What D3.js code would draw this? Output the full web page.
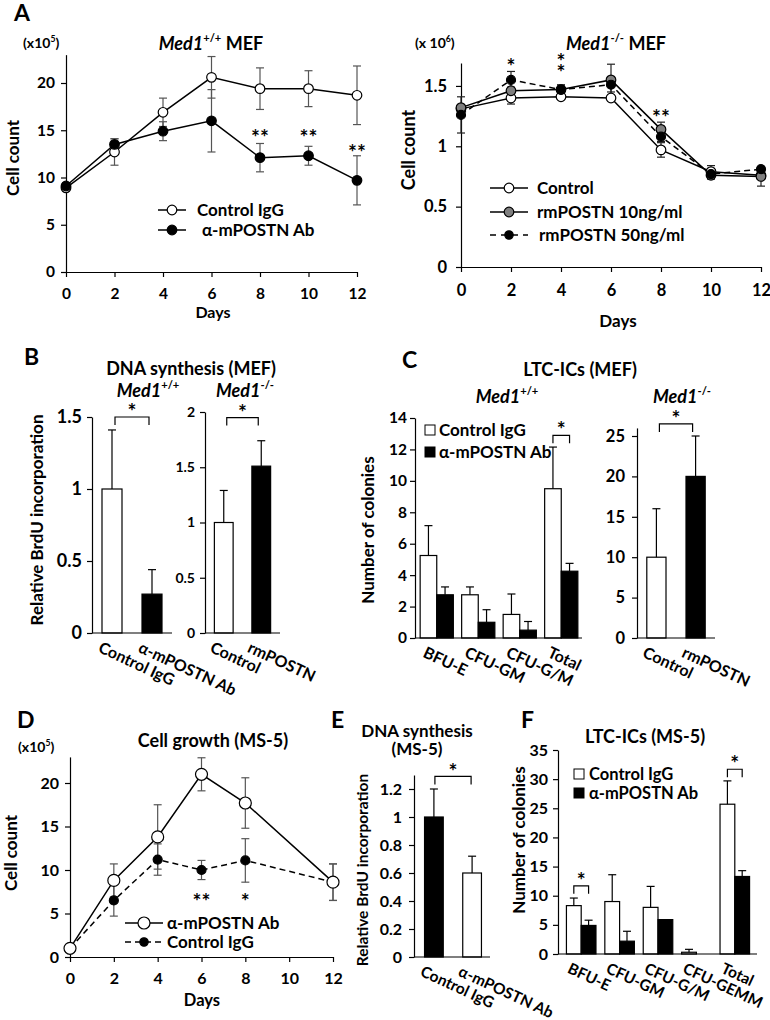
<!DOCTYPE html>
<html><head><meta charset="utf-8">
<script src="https://cdn.jsdelivr.net/npm/d3@7"></script>
<style>
body{margin:0;background:#fff}
svg{display:block}
text{font-family:Lato,'Open Sans',sans-serif;font-weight:bold;fill:#000}
</style>
</head><body>
<svg id="c" width="770" height="1020"></svg>
<script>
// ---------- DATA ----------
// Panel A (left): Med1+/+ MEF
const daysA = [0, 2, 4, 6, 8, 10, 12];
const aCtrlIgG = [8.9, 12.7, 16.9, 20.6, 19.4, 19.4, 18.7];
const aCtrlIgGErr = [0.3, 1.4, 1.5, 2.2, 2.2, 1.9, 3.1];
const aAntiAb = [9.1, 13.5, 14.9, 16.0, 12.1, 12.3, 9.7];
const aAntiAbErr = [0.3, 0.6, 1.0, 3.3, 1.5, 1.0, 2.6];
const aStars = [{day: 8, v: 14.7, t: "**"}, {day: 10, v: 14.7, t: "**"}, {day: 12, v: 13.1, t: "**"}];
const aYTicks = [0, 5, 10, 15, 20];

// Panel A (right): Med1-/- MEF
const rCtrl = [1.31, 1.40, 1.41, 1.40, 0.97, 0.79, 0.76];
const rCtrlErr = [0.02, 0.05, 0.02, 0.02, 0.06, 0.05, 0.03];
const rRm10 = [1.32, 1.46, 1.47, 1.55, 1.14, 0.76, 0.75];
const rRm10Err = [0.02, 0.03, 0.03, 0.13, 0.06, 0.03, 0.08];
const rRm50 = [1.26, 1.55, 1.47, 1.51, 1.08, 0.77, 0.81];
const rRm50Err = [0.15, 0.07, 0.04, 0.06, 0.04, 0.04, 0.02];
const rStars = [{day: 2, v: 1.70, t: "*"}, {day: 4, v: 1.74, t: "*"}, {day: 4, v: 1.65, t: "*"}, {day: 8, v: 1.28, t: "**"}];
const rYTicks = [0, 0.5, 1, 1.5];

// Panel B: DNA synthesis (MEF)
const bLeftCats = ["Control IgG", "α-mPOSTN Ab"];
const bLeftVals = [1.0, 0.27];
const bLeftErr = [0.41, 0.17];
const bLeftTicks = [0, 0.5, 1, 1.5];
const bRightCats = ["Control", "rmPOSTN"];
const bRightVals = [1.0, 1.51];
const bRightErr = [0.29, 0.23];
const bRightTicks = [0, 0.5, 1, 1.5, 2];

// Panel C: LTC-ICs (MEF)
const cCats = ["BFU-E", "CFU-GM", "CFU-G/M", "Total"];
const cCtrlIgG = [5.25, 2.75, 1.5, 9.5];
const cCtrlIgGErr = [1.9, 0.5, 1.3, 2.65];
const cAntiAb = [2.75, 1.0, 0.5, 4.25];
const cAntiAbErr = [0.5, 0.8, 0.55, 0.5];
const cLeftTicks = [0, 2, 4, 6, 8, 10, 12, 14];
const cRightCats = ["Control", "rmPOSTN"];
const cRightVals = [10, 20];
const cRightErr = [6, 5];
const cRightTicks = [0, 5, 10, 15, 20, 25];

// Panel D: Cell growth (MS-5)
const daysD = [0, 2, 4, 6, 8, 12];
const dAxisDays = [0, 2, 4, 6, 8, 10, 12];
const dAntiAb = [1.0, 8.8, 13.8, 21.0, 17.7, 8.6];
const dAntiAbErr = [0.2, 1.9, 3.7, 1.9, 2.9, 2.1];
const dCtrlIgG = [1.0, 6.5, 11.2, 10.0, 11.1, 8.6];
const dCtrlIgGErr = [0.2, 1.8, 1.8, 1.1, 2.5, 2.1];
const dStars = [{day: 6, v: 6.9, t: "**"}, {day: 8, v: 6.9, t: "*"}];
const dYTicks = [0, 5, 10, 15, 20];

// Panel E: DNA synthesis (MS-5)
const eCats = ["Control IgG", "α-mPOSTN Ab"];
const eVals = [1.0, 0.6];
const eErr = [0.2, 0.12];
const eTicks = [0, 0.2, 0.4, 0.6, 0.8, 1, 1.2];

// Panel F: LTC-ICs (MS-5)
const fCats = ["BFU-E", "CFU-GM", "CFU-G/M", "CFU-GEMM", "Total"];
const fCtrlIgG = [8.3, 9.0, 8.0, 0.3, 25.7];
const fCtrlIgGErr = [1.3, 4.6, 3.6, 0.5, 4.0];
const fAntiAb = [4.9, 2.2, 5.9, 0, 13.3];
const fAntiAbErr = [0.9, 1.7, 0, 0, 1.0];
const fTicks = [0, 5, 10, 15, 20, 25, 30, 35];

// ---------- DRAWING ----------
const svg = d3.select("#c");
const FONT = "Lato, 'Open Sans', sans-serif";
const STAR_FS = 21;

function styleAxis(sel, fs) {
  sel.attr("font-family", FONT);
  sel.selectAll("path,line").attr("stroke", "#000").attr("stroke-width", 1.2);
  sel.selectAll("text").attr("font-size", fs).attr("font-weight", "bold").attr("fill", "#000");
}

function text(x, y, s, fs, anchor) {
  return svg.append("text").attr("x", x).attr("y", y).attr("font-size", fs)
    .attr("text-anchor", anchor || "start").text(s);
}

function rich(x, y, parts, fs, anchor) {
  const t = svg.append("text").attr("x", x).attr("y", y).attr("font-size", fs).attr("text-anchor", anchor || "middle");
  let shifted = 0;
  parts.forEach(p => {
    const ts = t.append("tspan").text(p.t);
    if (p.it) ts.attr("font-style", "italic");
    if (p.sup) {
      ts.attr("font-size", fs * 0.62).attr("dy", -fs * 0.42 - shifted);
      shifted = -fs * 0.42;
    } else if (shifted) {
      ts.attr("dy", -shifted);
      shifted = 0;
    }
  });
  return t;
}

function vlabel(cx, cy, s, fs) {
  svg.append("text").attr("transform", `translate(${cx + fs * 0.36},${cy}) rotate(-90)`)
    .attr("text-anchor", "middle").attr("font-size", fs).text(s);
}

function star(x, yc, s, fs) {
  svg.append("text").attr("x", x).attr("y", yc + fs * 0.58).attr("font-size", fs)
    .attr("text-anchor", "middle").text(s);
}

function marker(g, cx, cy, r, fill) {
  g.append("circle").attr("cx", cx).attr("cy", cy).attr("r", r).attr("fill", fill)
    .attr("stroke", "#000").attr("stroke-width", 1.2);
}

function lineChart(o) {
  const x = d3.scaleLinear().domain([0, 12]).range([o.x0, o.x1]);
  const y = d3.scaleLinear().domain([0, o.ymax]).range([o.y0, o.y1]);
  const g = svg.append("g");
  g.append("g").attr("transform", `translate(0,${o.y0})`)
    .call(d3.axisBottom(x).tickValues(o.xticks).tickSize(5).tickSizeOuter(0).tickPadding(o.xpad).tickFormat(d => String(d)))
    .call(styleAxis, o.tfs);
  g.append("g").attr("transform", `translate(${o.x0},0)`)
    .call(d3.axisLeft(y).tickValues(o.yticks).tickSize(5).tickSizeOuter(0).tickPadding(o.ypad).tickFormat(d => String(d)))
    .call(styleAxis, o.tfs);
  o.series.forEach(s => {
    s.vals.forEach((v, i) => {
      const e = s.err[i]; if (!e) return;
      const cx = x(o.days[i]), yt = y(v + e), yb = y(v - e);
      g.append("line").attr("x1", cx).attr("x2", cx).attr("y1", yt).attr("y2", yb)
        .attr("stroke", o.errColor).attr("stroke-width", 1.2);
      [yt, yb].forEach(yy => g.append("line").attr("x1", cx - 4).attr("x2", cx + 4).attr("y1", yy).attr("y2", yy)
        .attr("stroke", o.errColor).attr("stroke-width", 1.2));
    });
  });
  const line = d3.line().x(d => x(d[0])).y(d => y(d[1]));
  o.series.forEach(s => {
    g.append("path").datum(s.vals.map((v, i) => [o.days[i], v])).attr("d", line)
      .attr("fill", "none").attr("stroke", "#000").attr("stroke-width", 1.5)
      .attr("stroke-dasharray", s.dash || null);
  });
  o.series.forEach(s => {
    s.vals.forEach((v, i) => marker(g, x(o.days[i]), y(v), s.r, s.fill));
  });
  (o.stars || []).forEach(st => star(x(st.day), y(st.v), st.t, STAR_FS));
  return {x, y, g};
}

function lineLegend(items, x0, x1, mx, tx, fs) {
  items.forEach(it => {
    svg.append("line").attr("x1", x0).attr("x2", x1).attr("y1", it.y).attr("y2", it.y)
      .attr("stroke", "#000").attr("stroke-width", 1.5).attr("stroke-dasharray", it.dash || null);
    marker(svg, mx, it.y, it.r, it.fill);
    text(it.tx || tx, it.y + fs * 0.36, it.label, fs);
  });
}

function barChart(o) {
  const g = svg.append("g");
  const y = d3.scaleLinear().domain([0, o.ymax]).range([o.y0, o.y1]);
  const xb = d3.scaleBand().domain(o.cats).range([o.bx0, o.bx1]).paddingInner(o.pi || 0).paddingOuter(o.po || 0);
  const xi = d3.scaleBand().domain(d3.range(o.series.length)).range([0, xb.bandwidth()]).paddingOuter(o.ipo || 0);
  g.append("g").attr("transform", `translate(${o.ax0},0)`)
    .call(d3.axisLeft(y).tickValues(o.yticks).tickSize(5).tickSizeOuter(0).tickPadding(o.ypad || 4).tickFormat(d => String(d)))
    .call(styleAxis, o.tfs);
  const centers = [];
  o.series.forEach((s, si) => {
    centers.push([]);
    o.cats.forEach((c, ci) => {
      const v = s.vals[ci], bx = xb(c) + xi(si), bw = xi.bandwidth();
      const fill = Array.isArray(s.fill) ? s.fill[ci] : s.fill;
      centers[si].push(bx + bw / 2);
      if (v > 0) g.append("rect").attr("x", bx).attr("y", y(v)).attr("width", bw).attr("height", y(0) - y(v))
        .attr("fill", fill).attr("stroke", "#000").attr("stroke-width", 1.2);
      const e = s.err[ci];
      if (e > 0) {
        const cx = bx + bw / 2;
        g.append("line").attr("x1", cx).attr("x2", cx).attr("y1", y(v)).attr("y2", y(v + e)).attr("stroke", "#000").attr("stroke-width", 1.2);
        g.append("line").attr("x1", cx - 4).attr("x2", cx + 4).attr("y1", y(v + e)).attr("y2", y(v + e)).attr("stroke", "#000").attr("stroke-width", 1.2);
      }
    });
  });
  g.append("line").attr("x1", o.ax0).attr("x2", o.ax1).attr("y1", o.y0).attr("y2", o.y0).attr("stroke", "#000").attr("stroke-width", 1.2);
  o.cats.forEach(c => {
    const cx = xb(c) + xb.bandwidth() / 2;
    g.append("text").attr("transform", `translate(${cx - 10},${o.y0 + 8}) rotate(25)`)
      .attr("dy", "0.72em").attr("font-size", o.lfs || 16).text(c);
  });
  (o.brackets || []).forEach(b => {
    const xa = centers[b.sa][b.ca] + (b.inset || 0), xz = centers[b.sb][b.cb] - (b.inset || 0), yt = y(b.v);
    g.append("path").attr("d", `M${xa},${yt + 8}V${yt}H${xz}V${yt + 8}`).attr("fill", "none").attr("stroke", "#000").attr("stroke-width", 1.2);
    star((xa + xz) / 2, yt - 10, "*", STAR_FS);
  });
  return {xb, xi, y, g};
}

function boxLegend(items, x, tx, fs) {
  items.forEach(it => {
    svg.append("rect").attr("x", x).attr("y", it.y - 5).attr("width", 10).attr("height", 10)
      .attr("fill", it.fill).attr("stroke", "#000").attr("stroke-width", 1);
    text(tx, it.y + fs * 0.36, it.label, fs);
  });
}

// ===== Panel A left =====
text(14, 21, "A", 23);
rich(23, 48, [{t: "(x10"}, {t: "5", sup: true}, {t: ")"}], 14, "start");
rich(211, 50, [{t: "Med1", it: true}, {t: "+/+", sup: true}, {t: " MEF"}], 18);
vlabel(13, 158, "Cell count", 17);
lineChart({
  x0: 66, x1: 357, y0: 272, y1: 272 - 23 * 9.45, ymax: 23, days: daysA, xticks: daysA, yticks: aYTicks,
  xpad: 11, ypad: 6, errColor: "#555", tfs: 15.5,
  series: [
    {vals: aCtrlIgG, err: aCtrlIgGErr, fill: "#fff", r: 4.8},
    {vals: aAntiAb, err: aAntiAbErr, fill: "#000", r: 4.8}
  ],
  stars: aStars
});
text(213, 318, "Days", 16, "middle");
lineLegend([
  {y: 210, label: "Control IgG", fill: "#fff", r: 4.8},
  {y: 230, label: "α-mPOSTN Ab", fill: "#000", r: 4.8, tx: 202}
], 158, 186, 172, 197, 17);

// ===== Panel A right =====
rich(415, 48, [{t: "(x 10"}, {t: "6", sup: true}, {t: ")"}], 14, "start");
rich(616, 50, [{t: "Med1", it: true}, {t: "-/-", sup: true}, {t: " MEF"}], 18);
vlabel(409, 150, "Cell count", 18);
lineChart({
  x0: 461, x1: 761, y0: 267, y1: 63, ymax: 1.69, days: daysA, xticks: daysA, yticks: rYTicks,
  xpad: 12, ypad: 9, errColor: "#222", tfs: 16.5,
  series: [
    {vals: rCtrl, err: rCtrlErr, fill: "#fff", r: 4.8},
    {vals: rRm10, err: rRm10Err, fill: "#7f7f7f", r: 4.8},
    {vals: rRm50, err: rRm50Err, fill: "#000", r: 4.5, dash: "6,4"}
  ],
  stars: rStars
});
text(618, 327, "Days", 17, "middle");
lineLegend([
  {y: 188, label: "Control", fill: "#fff", r: 4.8},
  {y: 212, label: "rmPOSTN 10ng/ml", fill: "#7f7f7f", r: 4.8},
  {y: 235, label: "rmPOSTN 50ng/ml", fill: "#000", r: 4.2, dash: "6,5", tx: 539}
], 490, 528, 509, 537, 17);

// ===== Panel B =====
text(24, 365, "B", 23);
text(191, 375, "DNA synthesis (MEF)", 18, "middle");
rich(148, 397, [{t: "Med1", it: true}, {t: "+/+", sup: true}], 18);
rich(245, 397, [{t: "Med1", it: true}, {t: "-/-", sup: true}], 18);
vlabel(37, 520, "Relative BrdU incorporation", 17);
barChart({
  ax0: 92, ax1: 172, bx0: 92, bx1: 172, pi: 0.5, po: 0.25, y0: 633, y1: 417, ymax: 1.5, yticks: bLeftTicks,
  cats: bLeftCats, series: [{vals: bLeftVals, err: bLeftErr, fill: ["#fff", "#000"]}], ypad: 5, tfs: 18,
  brackets: [{sa: 0, ca: 0, sb: 0, cb: 1, v: 1.5, inset: 3}]
});
barChart({
  ax0: 205, ax1: 280, bx0: 205, bx1: 280, pi: 0.5, po: 0.25, y0: 633, y1: 412, ymax: 2, yticks: bRightTicks,
  cats: bRightCats, series: [{vals: bRightVals, err: bRightErr, fill: ["#fff", "#000"]}], ypad: 5, tfs: 14,
  brackets: [{sa: 0, ca: 0, sb: 0, cb: 1, v: 1.95, inset: 3}]
});

// ===== Panel C =====
text(402, 368, "C", 23);
text(580, 376, "LTC-ICs (MEF)", 18, "middle");
rich(507, 403, [{t: "Med1", it: true}, {t: "+/+", sup: true}], 18);
rich(682, 403, [{t: "Med1", it: true}, {t: "-/-", sup: true}], 18);
vlabel(368, 530, "Number of colonies", 17);
barChart({
  ax0: 415, ax1: 582, bx0: 416, bx1: 582, y0: 638, y1: 418, ymax: 14, yticks: cLeftTicks,
  cats: cCats, ipo: 0.25, ypad: 3, tfs: 15.5,
  series: [{vals: cCtrlIgG, err: cCtrlIgGErr, fill: "#fff"}, {vals: cAntiAb, err: cAntiAbErr, fill: "#000"}],
  brackets: [{sa: 0, ca: 3, sb: 1, cb: 3, v: 12.9, inset: 0}]
});
boxLegend([
  {y: 430, label: "Control IgG", fill: "#fff"},
  {y: 452, label: "α-mPOSTN Ab", fill: "#000"}
], 425, 439, 17);
barChart({
  ax0: 637, ax1: 715, bx0: 637, bx1: 715, pi: 0.51, po: 0.25, y0: 638, y1: 638 - 26 * 8.08, ymax: 26, yticks: cRightTicks,
  cats: cRightCats, series: [{vals: cRightVals, err: cRightErr, fill: ["#fff", "#000"]}], ypad: 7, tfs: 16.5,
  brackets: [{sa: 0, ca: 0, sb: 0, cb: 1, v: 26.5, inset: 3}]
});

// ===== Panel D =====
text(17, 728, "D", 23);
rich(18, 752, [{t: "(x10"}, {t: "5", sup: true}, {t: ")"}], 14, "start");
text(213, 747, "Cell growth (MS-5)", 18, "middle");
vlabel(11, 853, "Cell count", 17);
lineChart({
  x0: 70, x1: 333, y0: 957, y1: 957 - 23 * 8.7, ymax: 23, days: daysD, xticks: dAxisDays, yticks: dYTicks,
  xpad: 11, ypad: 6, errColor: "#555", tfs: 16,
  series: [
    {vals: dCtrlIgG, err: dCtrlIgGErr, fill: "#000", r: 4.5, dash: "6,4"},
    {vals: dAntiAb, err: dAntiAbErr, fill: "#fff", r: 6}
  ],
  stars: dStars
});
text(202, 1006, "Days", 16.5, "middle");
lineLegend([
  {y: 923, label: "α-mPOSTN Ab", fill: "#fff", r: 6},
  {y: 942, label: "Control IgG", fill: "#000", r: 4.2, dash: "6,4"}
], 125, 163, 144, 167, 17);

// ===== Panel E =====
text(331, 728, "E", 23);
text(417, 737, "DNA synthesis", 17, "middle");
text(417, 755, "(MS-5)", 17, "middle");
vlabel(362, 870, "Relative BrdU incorporation", 15.5);
barChart({
  ax0: 414, ax1: 490, bx0: 415, bx1: 491, pi: 0.51, po: 0.25, y0: 957, y1: 957 - 1.3 * 140, ymax: 1.3, yticks: eTicks,
  cats: eCats, series: [{vals: eVals, err: eErr, fill: ["#000", "#fff"]}], ypad: 7, tfs: 16, lfs: 15.5,
  brackets: [{sa: 0, ca: 0, sb: 0, cb: 1, v: 1.29, inset: 1}]
});

// ===== Panel F =====
text(521, 728, "F", 23);
text(645, 743, "LTC-ICs (MS-5)", 18, "middle");
vlabel(519, 840, "Number of colonies", 17);
barChart({
  ax0: 558, ax1: 757, bx0: 562, bx1: 754, y0: 954, y1: 750, ymax: 35, yticks: fTicks,
  cats: fCats, ipo: 0.3, ypad: 5, tfs: 16, lfs: 15.5,
  series: [{vals: fCtrlIgG, err: fCtrlIgGErr, fill: "#fff"}, {vals: fAntiAb, err: fAntiAbErr, fill: "#000"}],
  brackets: [{sa: 0, ca: 0, sb: 1, cb: 0, v: 11.7, inset: 0}, {sa: 0, ca: 4, sb: 1, cb: 4, v: 31.7, inset: 0}]
});
boxLegend([
  {y: 774, label: "Control IgG", fill: "#fff"},
  {y: 793, label: "α-mPOSTN Ab", fill: "#000"}
], 574, 589, 16.5);
</script>
</body></html>
